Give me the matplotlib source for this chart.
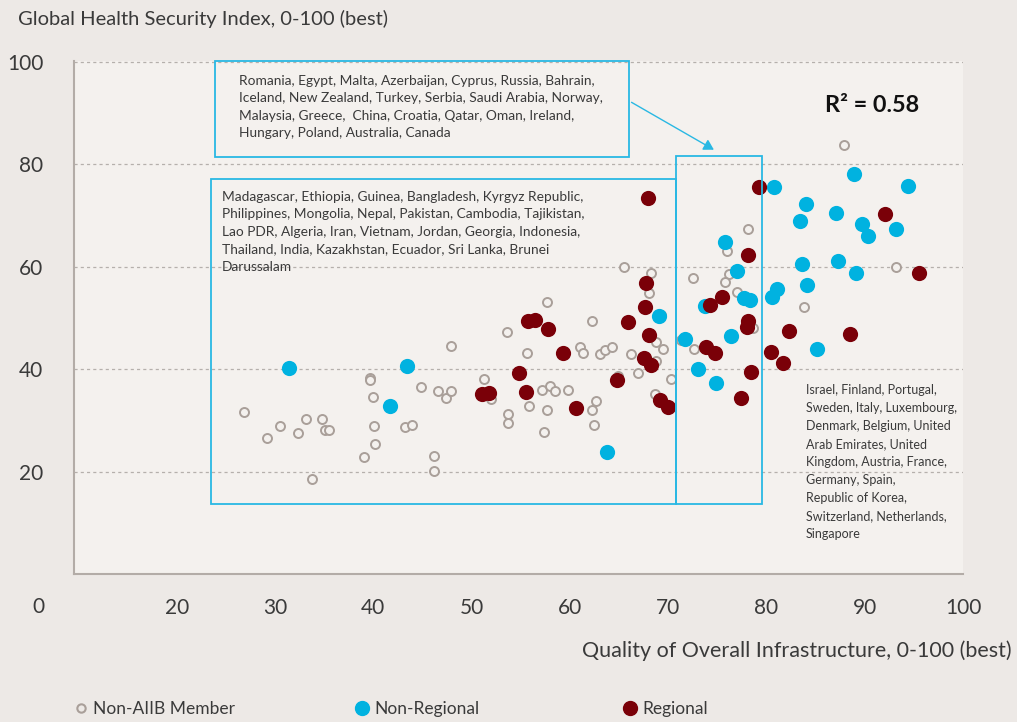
import matplotlib
matplotlib.use("Agg")
import matplotlib.pyplot as plt
from matplotlib.patches import Rectangle, FancyArrowPatch
from matplotlib.lines import Line2D

plt.rcParams['font.family'] = ['Lato', 'DejaVu Sans']

# ---------------- data ----------------
non_aiib_x = [26.8, 29.2, 30.5, 32.3, 33.2, 33.8, 34.8, 35.1, 35.5,
              39.7, 39.7, 40.0, 40.1, 40.2, 39.1, 43.2, 43.9, 44.9, 46.6, 47.4, 47.9, 47.9, 46.2, 46.2,
              51.3, 52.0, 53.6, 53.7, 53.7, 55.6, 57.7, 55.8, 57.2, 58.0, 58.5, 57.7, 57.4, 59.8,
              62.3, 61.0, 61.3, 63.1, 63.6, 64.3, 62.7, 62.3, 62.5, 64.9, 65.5, 66.2, 66.9,
              68.3, 68.1, 69.3, 68.8, 69.5, 68.8, 70.3, 68.7, 72.5, 72.6, 71.3,
              87.9, 78.1, 76.0, 93.2, 76.2, 75.8, 77.0, 83.8, 78.6]
non_aiib_y = [31.6, 26.6, 29.0, 27.6, 30.3, 18.6, 30.2, 28.2, 28.1,
              38.3, 37.9, 34.6, 29.0, 25.3, 22.9, 28.8, 29.1, 36.5, 35.7, 34.3, 35.7, 44.5, 23.1, 20.1,
              38.0, 34.2, 47.3, 31.2, 29.4, 43.2, 53.1, 32.9, 35.9, 36.8, 35.7, 32.0, 27.7, 35.9,
              49.4, 44.3, 43.2, 42.9, 43.8, 44.3, 33.8, 32.0, 29.2, 38.7, 60.0, 43.0, 39.2,
              58.8, 54.9, 50.5, 45.4, 43.9, 41.6, 38.1, 35.1, 57.8, 43.9, 45.7,
              83.8, 67.4, 63.1, 60.0, 58.5, 57.1, 55.1, 52.1, 48.1]

non_regional_x = [31.4, 43.4, 41.7, 63.8, 69.1, 71.7, 73.0, 73.8, 74.9, 80.8, 88.9, 94.4,
                  84.0, 83.4, 87.1, 89.7, 90.3, 93.2, 75.8, 83.6, 87.3, 89.1, 77.0, 84.1,
                  77.7, 78.3, 80.6, 81.1, 76.4, 85.1]
non_regional_y = [40.2, 40.7, 32.9, 23.8, 50.3, 45.9, 40.0, 52.4, 37.4, 75.5, 78.2, 75.8,
                  72.3, 68.9, 70.6, 68.4, 66.1, 67.3, 64.8, 60.5, 61.2, 58.7, 59.2, 56.4,
                  54.0, 53.5, 54.2, 55.6, 46.5, 43.9]

regional_x = [51.1, 51.8, 55.7, 56.5, 57.8, 54.8, 55.5, 59.3, 60.6, 64.8, 65.9, 67.7,
              67.6, 68.1, 67.5, 68.3, 69.2, 70.0, 67.9, 74.3, 73.9, 74.8, 79.2, 92.1,
              78.1, 95.5, 75.5, 78.1, 78.0, 82.3, 88.5, 80.5, 81.7, 78.4, 77.4]
regional_y = [35.2, 35.3, 49.4, 49.6, 47.8, 39.3, 35.6, 43.2, 32.4, 37.9, 49.2, 56.8,
              52.2, 46.6, 42.2, 40.8, 34.0, 32.7, 73.4, 52.5, 44.4, 43.1, 75.6, 70.4,
              62.4, 58.8, 54.2, 49.5, 48.3, 47.5, 46.9, 43.3, 41.3, 39.5, 34.4]

x_ticks = [20, 30, 40, 50, 60, 70, 80, 90, 100]
y_ticks = [20, 40, 60, 80, 100]

text_top = ("Romania, Egypt, Malta, Azerbaijan, Cyprus, Russia, Bahrain,\n"
            "Iceland, New Zealand, Turkey, Serbia, Saudi Arabia, Norway,\n"
            "Malaysia, Greece,  China, Croatia, Qatar, Oman, Ireland,\n"
            "Hungary, Poland, Australia, Canada")
text_left = ("Madagascar, Ethiopia, Guinea, Bangladesh, Kyrgyz Republic,\n"
             "Philippines, Mongolia, Nepal, Pakistan, Cambodia, Tajikistan,\n"
             "Lao PDR, Algeria, Iran, Vietnam, Jordan, Georgia, Indonesia,\n"
             "Thailand, India, Kazakhstan, Ecuador, Sri Lanka, Brunei\n"
             "Darussalam")
text_right = ("Israel, Finland, Portugal,\n"
              "Sweden, Italy, Luxembourg,\n"
              "Denmark, Belgium, United\n"
              "Arab Emirates, United\n"
              "Kingdom, Austria, France,\n"
              "Germany, Spain,\n"
              "Republic of Korea,\n"
              "Switzerland, Netherlands,\n"
              "Singapore")

# ---------------- styles ----------------
FIG_BG = '#EDE9E6'
AX_BG = '#F4F1EE'
GRAY_MK = '#A99F99'
CYAN = '#00B2E0'
RED = '#7A0008'
BOX = '#29B8E3'
TXT = '#3A3A3A'

W, H = 1017, 722
fig = plt.figure(figsize=(W / 100, H / 100), dpi=100, facecolor=FIG_BG)
ax = fig.add_axes([74 / W, 1 - 574 / H, (963 - 74) / W, (574 - 61) / H])
ax.set_facecolor(AX_BG)

ax.set_xlim(9.55, 99.7)
ax.set_ylim(0, 100.2)

for s in ['top', 'right']:
    ax.spines[s].set_visible(False)
for s in ['left', 'bottom']:
    ax.spines[s].set_color('#B3ACA7')
    ax.spines[s].set_linewidth(1.5)

ax.set_yticks(y_ticks)
ax.set_xticks(x_ticks)
ax.tick_params(axis='both', length=0, labelsize=15, colors=TXT)
ax.tick_params(axis='y', pad=22)
ax.tick_params(axis='x', pad=17)
ax.yaxis.grid(True, linestyle=(0, (2.5, 2.5)), color='#B5B0AC', linewidth=0.9)
ax.set_axisbelow(True)

fig.text(38 / W, 1 - 607 / H, "0", ha='center', va='center', fontsize=15, color=TXT)

ax.scatter(non_aiib_x, non_aiib_y, s=42, facecolors=AX_BG, edgecolors=GRAY_MK,
           linewidths=1.4, zorder=3)
ax.scatter(non_regional_x, non_regional_y, s=120, color=CYAN, linewidths=0, zorder=4)
ax.scatter(regional_x, regional_y, s=120, color=RED, linewidths=0, zorder=4)

# annotation boxes
ax.add_patch(Rectangle((23.85, 81.4), 66.03 - 23.85, 100.2 - 81.4, fill=False,
                       edgecolor=BOX, linewidth=1.3, clip_on=False, zorder=5))
ax.add_patch(Rectangle((23.45, 13.7), 70.8 - 23.45, 77.1 - 13.7, fill=False,
                       edgecolor=BOX, linewidth=1.3, clip_on=False, zorder=5))
ax.add_patch(Rectangle((70.8, 13.7), 79.6 - 70.8, 81.6 - 13.7, fill=False,
                       edgecolor=BOX, linewidth=1.3, clip_on=False, zorder=5))
ax.add_patch(FancyArrowPatch((66.03, 92.4), (74.9, 82.6), arrowstyle='-|>,head_length=6,head_width=3.5',
                             color=BOX, linewidth=1.0, clip_on=False, zorder=5))

ax.text(26.3, 97.5, text_top, ha='left', va='top', fontsize=9.9, color=TXT,
        linespacing=1.55, zorder=6)
ax.text(24.6, 74.9, text_left, ha='left', va='top', fontsize=9.9, color=TXT,
        linespacing=1.55, zorder=6)
ax.text(84.0, 37.1, text_right, ha='left', va='top', fontsize=9, color=TXT,
        linespacing=1.6, zorder=6, clip_on=False)
ax.text(86.0, 91.6, "R² = 0.58", ha='left', va='center', fontsize=16.8,
        fontweight='bold', color='#111111', zorder=6)

fig.text(18 / W, 1 - 19 / H, "Global Health Security Index, 0-100 (best)",
         ha='left', va='center', fontsize=14.5, color=TXT)
fig.text(1012 / W, 1 - 651 / H, "Quality of Overall Infrastructure, 0-100 (best)",
         ha='right', va='center', fontsize=15.5, color=TXT)

# legend entries
entries = [
    (Line2D([], [], linestyle='none', marker='o', markersize=6, markerfacecolor=FIG_BG,
            markeredgecolor=GRAY_MK, markeredgewidth=1.5), "Non-AIIB Member", 76),
    (Line2D([], [], linestyle='none', marker='o', markersize=10, color=CYAN), "Non-Regional", 357),
    (Line2D([], [], linestyle='none', marker='o', markersize=10, color=RED), "Regional", 625),
]
for h, lab, px in entries:
    fig.legend([h], [lab], loc='center left', bbox_to_anchor=(px / W, 1 - 709 / H),
               frameon=False, fontsize=12.5, handlelength=0.6, handletextpad=0.4,
               borderpad=0, borderaxespad=0, labelcolor=TXT)

fig.savefig("out.png", dpi=100, facecolor=FIG_BG)
